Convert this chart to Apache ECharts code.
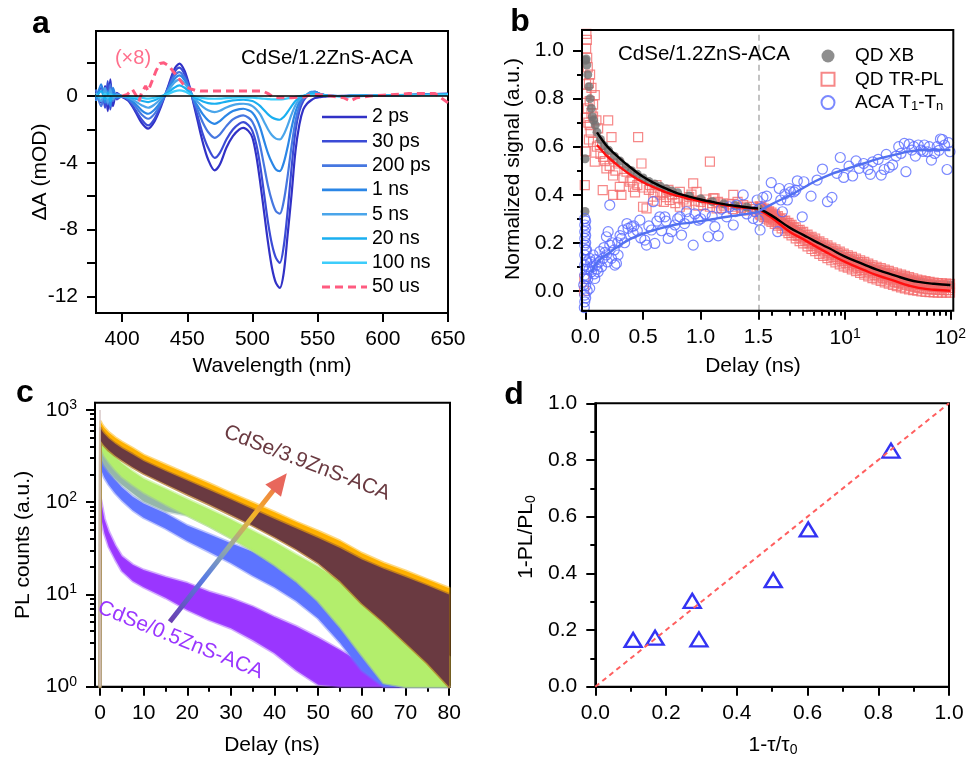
<!DOCTYPE html>
<html><head><meta charset="utf-8">
<script src="https://cdn.jsdelivr.net/npm/echarts@6/dist/echarts.min.js"></script>
<style>html,body{margin:0;padding:0;background:#fff}#c{width:969px;height:758px}</style>
</head><body><div id="c"></div>
<script>
// ---------- Panel a : transient absorption spectra ----------
const wl = [380,384,387,389,391,393,396,400,405,410,415,420,425,430,435,440,444,448,452,455,458,462,466,471,475,480,485,490,493,497,500,503,506,509,512,515,518,521,524,527,530,533,536,539,542,545,548,552,556,560,570,580,600,620,640,650];
const ps2 = [0.3,-0.4,0.6,-0.9,1.0,-0.6,0.2,-0.05,-0.3,-0.9,-1.6,-1.95,-1.5,-0.6,0.5,1.6,1.95,1.5,0.5,-0.5,-1.5,-2.8,-3.8,-4.45,-4.1,-3.1,-2.4,-2.0,-1.9,-2.1,-2.5,-3.6,-5.2,-7.0,-8.8,-10.3,-11.2,-11.5,-10.6,-8.3,-5.9,-3.3,-1.7,-0.8,-0.45,-0.25,-0.12,-0.06,-0.03,0,0.02,0.03,0.05,0.08,0.12,0.15];
const ps30 = [-0.2,0.5,-0.7,0.9,-0.8,0.4,-0.2,0,-0.25,-0.8,-1.4,-1.76,-1.35,-0.5,0.45,1.4,1.7,1.3,0.45,-0.4,-1.2,-2.3,-3.1,-3.7,-3.4,-2.6,-2.0,-1.65,-1.56,-1.75,-2.1,-2.9,-4.2,-5.9,-7.6,-8.9,-9.7,-10.0,-9.0,-6.9,-4.3,-2.1,-0.9,-0.3,0.0,0.2,0.25,0.12,0.05,0.02,0,0,0.05,0.05,0.1,0.1];
const ps200 = [0.4,-0.6,0.3,-0.5,0.7,-0.3,0.1,0,-0.2,-0.6,-1.1,-1.36,-1.05,-0.4,0.4,1.2,1.44,1.1,0.4,-0.3,-0.85,-1.6,-2.15,-2.5,-2.3,-1.8,-1.4,-1.2,-1.16,-1.3,-1.55,-2.1,-3.0,-4.2,-5.4,-6.3,-6.9,-7.05,-6.3,-4.8,-3.0,-1.5,-0.6,-0.15,0.05,0.22,0.25,0.12,0.05,0.02,0,0.02,0.03,0.05,0.08,0.1];
const ns1 = [-0.3,0.7,-0.4,0.3,-0.6,0.5,-0.1,0,-0.15,-0.45,-0.85,-1.06,-0.8,-0.3,0.35,1.0,1.24,0.95,0.35,-0.2,-0.6,-1.1,-1.45,-1.66,-1.5,-1.15,-0.9,-0.78,-0.76,-0.85,-1.0,-1.35,-1.9,-2.7,-3.45,-4.0,-4.4,-4.5,-4.0,-3.05,-1.9,-0.95,-0.35,-0.05,0.1,0.25,0.25,0.12,0.05,0.02,0,0.02,0.05,0.08,0.1,0.12];
const ns5 = [0.2,-0.3,0.5,-0.4,0.4,-0.2,0.1,0,-0.1,-0.3,-0.55,-0.7,-0.5,-0.15,0.3,0.8,0.98,0.75,0.3,-0.1,-0.35,-0.65,-0.85,-0.96,-0.88,-0.68,-0.54,-0.47,-0.46,-0.5,-0.6,-0.8,-1.1,-1.55,-2.0,-2.35,-2.55,-2.6,-2.3,-1.75,-1.1,-0.55,-0.2,0.0,0.1,0.22,0.2,0.1,0.04,0.02,0,0.02,0.04,0.06,0.1,0.12];
const ns20 = [-0.1,0.3,-0.2,0.2,-0.3,0.1,0,0,-0.05,-0.15,-0.28,-0.36,-0.25,-0.05,0.2,0.5,0.64,0.5,0.2,-0.05,-0.18,-0.32,-0.42,-0.46,-0.42,-0.33,-0.26,-0.23,-0.22,-0.25,-0.3,-0.42,-0.6,-0.85,-1.1,-1.28,-1.38,-1.42,-1.25,-0.95,-0.6,-0.3,-0.1,0.0,0.08,0.15,0.15,0.08,0.03,0.01,0,0.02,0.04,0.06,0.08,0.1];
const ns100 = [0.1,-0.1,0.15,-0.1,0.1,0,0,0,0,-0.05,-0.1,-0.15,-0.1,0,0.12,0.28,0.34,0.28,0.12,0,-0.06,-0.12,-0.15,-0.16,-0.15,-0.12,-0.1,-0.08,-0.08,-0.09,-0.1,-0.12,-0.14,-0.16,-0.18,-0.2,-0.2,-0.2,-0.18,-0.14,-0.1,-0.05,0,0.02,0.05,0.08,0.08,0.05,0.02,0.01,0,0.01,0.03,0.05,0.06,0.08];
const wl50 = [400,404,408,411,413,415,418,420,423,426,429,432,436,440,444,448,452,456,460,470,480,490,500,508,512,516,520,530,540,545,550,560,570,575,580,590,600,620,640,650];
const us50 = [0,0.1,0.4,0.0,-0.3,0.2,0.6,0.3,0.9,1.5,1.95,2.0,1.8,1.4,1.0,0.6,0.45,0.35,0.3,0.3,0.3,0.3,0.3,0.3,0.15,-0.05,-0.1,-0.1,-0.05,0.1,0.1,0,-0.1,-0.3,-0.1,0,0.05,0.15,0.15,-0.4];
const aNames = ['2 ps','30 ps','200 ps','1 ns','5 ns','20 ns','100 ns','50 us'];
const aTicksX = [400,450,500,550,600,650];
const aTicksY = [-12,-10,-8,-6,-4,-2,0,2];
const aLabelsY = [-12,-8,-4,0];

// ---------- Panel b : kinetics ----------
const fitLeftT = [0.1,0.15,0.2,0.3,0.4,0.5,0.6,0.7,0.8,0.9,1.0,1.1,1.2,1.3,1.4,1.5];
const fitXBLeft = [0.66,0.625,0.595,0.55,0.51,0.475,0.448,0.425,0.406,0.392,0.38,0.37,0.361,0.354,0.348,0.343];
const fitPLLeft = [0.607,0.58,0.555,0.515,0.48,0.452,0.43,0.41,0.395,0.383,0.373,0.365,0.357,0.35,0.345,0.34];
const acaFitLeftT = [0.05,0.1,0.15,0.2,0.3,0.4,0.5,0.6,0.7,0.8,0.9,1.0,1.1,1.2,1.3,1.4,1.5];
const acaFitLeft = [0.075,0.118,0.14,0.156,0.19,0.218,0.238,0.253,0.266,0.277,0.283,0.29,0.298,0.306,0.313,0.32,0.327];
const fitRightT = [1.5,2,3,4,5,7,10,15,20,30,40,50,70,100];
const fitXBRight = [0.343,0.314,0.262,0.233,0.21,0.178,0.142,0.11,0.088,0.063,0.046,0.037,0.029,0.024];
const fitPLRight = [0.34,0.305,0.245,0.215,0.19,0.155,0.12,0.087,0.065,0.04,0.022,0.012,0.004,0.0];
const acaFitRight = [0.33,0.36,0.398,0.428,0.452,0.482,0.505,0.53,0.548,0.567,0.58,0.585,0.587,0.586];

const plLeft = [[-0.01,0.05],[-0.012,0.0],[-0.006,0.44],[0.0,0.58],[0.003,0.72],[0.005,0.86],[0.008,1.07],[0.012,1.045],[0.006,1.01],[0.015,0.97],[0.02,0.93],[0.04,0.9],[0.03,0.865],[0.052,0.845],[0.01,0.82],[0.081,0.815],[0.037,0.79],[0.066,0.775],[0.052,0.74],[0.066,0.725],[0.095,0.71],[0.197,0.71],[0.037,0.69],[0.11,0.676],[0.226,0.64],[0.066,0.62],[0.124,0.607],[0.008,0.58],[0.457,0.64],[0.153,0.558],[0.081,0.538],[0.24,0.55],[0.283,0.53],[0.486,0.53],[1.08,0.538],[0.182,0.51],[0.356,0.496],[0.24,0.48],[0.298,0.433],[0.385,0.454],[0.414,0.433],[0.15,0.419],[0.24,0.399],[0.312,0.399],[0.616,0.44],[0.703,0.412],[0.819,0.412],[0.935,0.447],[0.964,0.412],[0.5,0.35],[0.53,0.343],[0.732,0.378],[0.877,0.371],[1.022,0.357],[1.109,0.385],[1.196,0.364],[1.283,0.399],[1.369,0.357],[1.456,0.35],[1.49,0.33],[1.138,0.343],[0.819,0.35],[0.588,0.392],[0.55,0.42],[0.6,0.41],[0.65,0.40],[0.7,0.39],[0.75,0.40],[0.8,0.385],[0.85,0.38],[0.9,0.39],[0.95,0.375],[1.0,0.37],[1.05,0.38],[1.1,0.365],[1.15,0.37],[1.2,0.355],[1.25,0.36],[1.3,0.35],[1.35,0.345],[1.4,0.35],[1.45,0.34],[0.62,0.375],[0.68,0.37],[0.78,0.365],[0.88,0.36],[0.98,0.355],[1.08,0.35],[1.18,0.345],[1.28,0.34],[1.38,0.335],[0.72,0.42],[0.92,0.40],[1.12,0.385],[1.32,0.37],[0.1,0.6],[0.13,0.57],[0.17,0.54],[0.21,0.52],[0.26,0.5],[0.33,0.47],[0.4,0.46],[0.45,0.44],[0.5,0.43],[0.56,0.44],[0.43,0.41],[0.02,0.76],[0.025,0.7],[0.045,0.66],[0.03,0.63]];
const xbLeft = [[-0.004,0.33],[-0.003,0.55],[0.0,0.96],[0.006,0.965],[0.012,0.94],[0.02,0.9],[0.03,0.85],[0.04,0.8],[0.05,0.76],[0.06,0.725],[0.07,0.71],[0.085,0.69],[0.1,0.66],[0.13,0.63],[0.16,0.605],[0.2,0.585],[0.25,0.56],[0.3,0.54],[0.35,0.515],[0.4,0.5],[0.45,0.485],[0.5,0.47],[0.55,0.455],[0.6,0.445],[0.65,0.435],[0.7,0.425],[0.75,0.415],[0.8,0.408],[0.9,0.395],[1.0,0.383],[1.1,0.372],[1.2,0.362],[1.3,0.355],[1.4,0.349],[1.5,0.344]];
const acaLeft = [[-0.006,0.301],[-0.006,0.274],[-0.006,0.246],[-0.006,0.218],[-0.006,0.19],[-0.006,0.149],[-0.006,0.107],[-0.006,0.065],[-0.015,0.024],[-0.006,-0.018],[-0.006,-0.046],[-0.01,-0.07],[0.002,0.29],[0.002,0.26],[0.002,0.23],[0.002,0.2],[0.002,0.17],[0.002,0.13],[0.002,0.09],[0.002,0.05],[0.002,0.02],[0.002,-0.03],[0.01,0.12],[0.01,0.06],[0.015,0.0],[0.01,0.17],[0.037,0.135],[0.066,0.149],[0.095,0.107],[0.124,0.163],[0.081,0.051],[0.037,0.01],[0.052,0.079],[0.11,0.079],[0.153,0.135],[0.182,0.149],[0.211,0.19],[0.226,0.135],[0.255,0.107],[0.269,0.114],[0.283,0.149],[0.197,0.246],[0.211,0.357],[0.312,0.218],[0.327,0.253],[0.37,0.26],[0.399,0.267],[0.414,0.239],[0.472,0.294],[0.515,0.211],[0.53,0.19],[0.573,0.253],[0.588,0.371],[0.602,0.197],[0.645,0.308],[0.689,0.308],[0.718,0.218],[0.747,0.246],[0.776,0.274],[0.819,0.308],[0.834,0.232],[0.877,0.329],[0.935,0.19],[0.979,0.294],[1.065,0.225],[1.123,0.267],[1.152,0.229],[1.225,0.308],[1.283,0.274],[1.312,0.357],[1.369,0.399],[1.456,0.301],[1.49,0.378],[0.02,0.05],[0.03,0.09],[0.045,0.12],[0.06,0.1],[0.075,0.07],[0.09,0.13],[0.1,0.09],[0.12,0.12],[0.14,0.1],[0.16,0.18],[0.17,0.16],[0.19,0.12],[0.23,0.2],[0.25,0.17],[0.28,0.2],[0.3,0.23],[0.34,0.2],[0.36,0.28],[0.42,0.27],[0.45,0.25],[0.48,0.22],[0.55,0.27],[0.62,0.29],[0.66,0.25],[0.7,0.29],[0.8,0.3],[0.86,0.28],[0.9,0.3],[0.95,0.32],[1.0,0.3],[1.04,0.32],[1.1,0.31],[1.18,0.34],[1.25,0.35],[1.3,0.33],[1.4,0.32],[1.47,0.33],[0.182,0.225]];
const acaRight = [[1.5,0.294],[1.56,0.253],[1.59,0.343],[1.66,0.389],[1.8,0.394],[1.99,0.45],[2.29,0.246],[2.37,0.426],[2.45,0.378],[2.54,0.329],[2.68,0.403],[2.83,0.378],[2.95,0.426],[3.04,0.412],[3.27,0.412],[3.4,0.419],[3.52,0.458],[3.92,0.308],[4.06,0.454],[4.75,0.394],[5.42,0.461],[6.1,0.507],[6.8,0.371],[7.5,0.389],[8.34,0.489],[9.0,0.555],[9.7,0.472],[10.9,0.519],[11.8,0.478],[12.7,0.541],[13.6,0.51],[15.0,0.53],[16.5,0.505],[17.4,0.485],[18.3,0.537],[20.6,0.547],[22,0.482],[23.5,0.505],[24.6,0.568],[26.3,0.514],[28.3,0.524],[30.5,0.561],[32.3,0.6],[33.9,0.572],[36.5,0.614],[37.8,0.496],[40.6,0.611],[43,0.586],[46.5,0.561],[49.5,0.607],[52.5,0.586],[56.5,0.607],[60.5,0.579],[66,0.544],[71,0.572],[74.8,0.6],[80.4,0.632],[88,0.607],[92.9,0.505],[96,0.617],[99,0.579],[84,0.63],[63,0.6],[45,0.6],[55,0.58],[78,0.585]];
const tRight = [1.55,1.6,1.7,1.8,1.9,2.0,2.15,2.3,2.5,2.7,2.9,3.1,3.4,3.7,4.0,4.4,4.8,5.2,5.7,6.2,6.8,7.4,8.1,8.9,9.7,10.6,11.6,12.7,13.9,15.2,16.6,18.2,19.9,21.8,23.8,26,28.5,31,34,37,40.5,44.3,48.4,53,58,63.4,69.3,75.8,82.9,90.6,99];
const plHi = [0.352,0.35,0.342,0.337,0.331,0.326,0.318,0.311,0.302,0.292,0.283,0.275,0.264,0.254,0.245,0.234,0.225,0.217,0.206,0.198,0.189,0.18,0.172,0.163,0.155,0.148,0.141,0.134,0.127,0.12,0.113,0.106,0.1,0.094,0.088,0.083,0.077,0.072,0.067,0.062,0.057,0.052,0.047,0.043,0.04,0.037,0.034,0.032,0.031,0.03,0.029];
const plMid = [0.338,0.334,0.327,0.321,0.315,0.309,0.301,0.294,0.284,0.274,0.264,0.256,0.244,0.233,0.224,0.212,0.202,0.194,0.183,0.174,0.165,0.156,0.148,0.139,0.131,0.125,0.118,0.111,0.103,0.096,0.089,0.082,0.076,0.07,0.064,0.059,0.053,0.048,0.043,0.039,0.034,0.03,0.026,0.023,0.02,0.018,0.016,0.015,0.014,0.013,0.012];
const plLo = [0.318,0.314,0.307,0.3,0.293,0.287,0.279,0.271,0.26,0.25,0.24,0.231,0.218,0.207,0.197,0.185,0.174,0.165,0.154,0.145,0.136,0.127,0.118,0.11,0.102,0.096,0.089,0.082,0.074,0.067,0.06,0.053,0.047,0.041,0.035,0.03,0.024,0.019,0.014,0.01,0.006,0.003,0.0,-0.003,-0.005,-0.006,-0.007,-0.008,-0.008,-0.008,-0.008];
const tRight2 = [1.57,1.65,1.75,1.85,1.95,2.07,2.22,2.4,2.6,2.8,3.0,3.25,3.55,3.85,4.2,4.6,5.0,5.45,5.95,6.5,7.1,7.75,8.5,9.3,10.15,11.1,12.15,13.3,14.55,15.9,17.4,19.05,20.85,22.8,24.9,27.2,29.75,32.5,35.5,38.7,42.4,46.3,50.7,55.5,60.7,66.3,72.5,79.3,86.7,94.8];
const plA = [0.344,0.338,0.333,0.327,0.321,0.315,0.307,0.299,0.29,0.281,0.272,0.263,0.252,0.241,0.231,0.221,0.211,0.202,0.192,0.184,0.175,0.166,0.158,0.149,0.141,0.134,0.127,0.120,0.113,0.106,0.099,0.092,0.086,0.080,0.074,0.069,0.063,0.058,0.053,0.049,0.044,0.040,0.036,0.033,0.030,0.027,0.025,0.024,0.023,0.022];
const plB = [0.326,0.321,0.315,0.309,0.303,0.297,0.289,0.281,0.271,0.261,0.251,0.241,0.229,0.218,0.208,0.197,0.187,0.178,0.168,0.159,0.150,0.141,0.132,0.124,0.116,0.109,0.102,0.095,0.087,0.080,0.073,0.066,0.060,0.054,0.048,0.043,0.037,0.032,0.027,0.023,0.019,0.015,0.012,0.009,0.007,0.006,0.005,0.004,0.003,0.003];
const xbRight = [0.34,0.336,0.33,0.325,0.319,0.314,0.306,0.299,0.29,0.28,0.271,0.263,0.252,0.242,0.233,0.222,0.213,0.205,0.194,0.186,0.177,0.168,0.16,0.151,0.143,0.136,0.129,0.122,0.115,0.108,0.101,0.094,0.088,0.082,0.076,0.071,0.065,0.06,0.055,0.051,0.046,0.042,0.038,0.035,0.032,0.03,0.028,0.027,0.026,0.025,0.024];
const bTicksY = [0,0.2,0.4,0.6,0.8,1.0];
const bMinorY = [0.1,0.3,0.5,0.7,0.9];
const bTicksXLeft = [0,0.5,1.0,1.5];
const bTicksXLog = [10,100];
const bMinorXLog = [2,3,4,5,6,7,8,9,20,30,40,50,60,70,80,90];

// ---------- Panel c : PL decay (noise envelopes, lower/upper) ----------
const tc = [0,0.1,0.5,1,2,3.5,5,7.5,10,15,20,25,30,35,40,45,50,55,60,65,70,75,80];
const orangeHi = [1,750,690,640,570,500,450,385,325,255,202,160,125,99,78,61,48.5,38,28,22,18,14.5,11.7];
const brownHi = [1,640,590,550,490,430,385,330,280,218,172,136,107,84,66,52,41,32,24,19,15.5,12.5,10];
const brownLo = [1,470,440,410,365,320,285,240,205,158,122,95,73,56,42,31,22,14,8,5,3,1.8,1];
const greenHi = [1,560,500,440,380,310,265,215,180,140,108,84,65,49,37,27,20,14,9.5,6.2,4.2,2.9,2.1];
const greenLo = [1,400,360,320,275,225,190,155,128,95,72,55,41,30,21,14,8.5,4.5,2.2,1.1,1,1,1];
const tealHi = [1,420,380,340,290,245,210,170,140,100,85,66,50,38,28,20,14,9,6,4,2.5,1.5,1];
const tealLo = [1,310,280,250,215,180,155,125,102,80,72,55,41,30,21,14,8.5,4.5,2.2,1.1,1,1,1];
const blueHi = [1,330,290,260,215,175,145,115,97,76,56,45,36,29,22,17,12.5,8.5,5.5,3.3,2,1.2,1];
const blueLo = [1,240,210,185,155,125,105,82,68,52,38,29,22,16,12,8.5,5.5,3,1.5,1,1,1,1];
const purpleHi = [1,110,88,66,48,34,26,21,18.4,15.5,13.3,10.7,9.1,7.4,5.7,4.5,3.4,2.5,1.8,1.3,1.05,1,1];
const purpleLo = [1,80,60,46,33,24,18,14,12,9.2,6.8,5.3,4.3,3.2,2.3,1.5,1.05,1,1,1,1,1,1];
const cTicksX = [0,10,20,30,40,50,60,70,80];
const cMinorX = [5,15,25,35,45,55,65,75];
const cDecades = [0,1,2,3];
const cMinorY = [2,3,4,5,6,7,8,9,20,30,40,50,60,70,80,90,200,300,400,500,600,700,800,900];
const arrowFrom = [16, 5.07];
const arrowTo = [42.8, 206];

// ---------- Panel d ----------
const dX = [0.107,0.169,0.274,0.293,0.503,0.602,0.836];
const dY = [0.165,0.173,0.303,0.167,0.376,0.555,0.833];
const dLine = [[0,0],[1,1]];

// ================== build ==================
const FONT = "'Liberation Sans', Arial, sans-serif";
const pairs = (xs, ys) => xs.map((x, i) => [x, ys[i]]);
const lbl = (extra) => Object.assign({fontSize: 21, fontFamily: FONT, color: '#000'}, extra || {});
const AX = {onZero: false, lineStyle: {color: '#000', width: 2}};
const NOAX = {show: false, onZero: false};
const tick = (len, vals) => { const t = {show: true, length: len, lineStyle: {color: '#000', width: 2}}; if (vals) t.customValues = vals; return t; };
const noSplit = {show: false};
const supRich = {b: {fontSize: 21, fontFamily: FONT, color: '#000'}, s: {fontSize: 14, fontFamily: FONT, color: '#000', verticalAlign: 'top', padding: [0, 0, 10, 0]}};
const lg = Math.log10;

const aColors = ['#3131c6','#3b4bd6','#4677e0','#2b86e6','#4aa5ea','#1aaff0','#3dcdfb'];
const aVals = [ps2, ps30, ps200, ns1, ns5, ns20, ns100];

const series = [];
aVals.forEach((v, i) => {
  const s = {name: aNames[i], type: 'line', xAxisIndex: 0, yAxisIndex: 0, data: pairs(wl, v), showSymbol: false, symbol: 'none',
    lineStyle: {color: aColors[i], width: 2.2}, itemStyle: {color: aColors[i]}, smooth: 0.3};
  if (i === 0) s.markLine = {silent: true, symbol: 'none', label: {show: false}, lineStyle: {color: '#000', width: 1.6, type: 'solid'}, data: [{yAxis: 0}]};
  series.push(s);
});
series.push({name: '50 us', type: 'line', xAxisIndex: 0, yAxisIndex: 0, data: pairs(wl50, us50), showSymbol: false, symbol: 'none',
  lineStyle: {color: '#ff5b80', width: 3, type: [8, 5]}, itemStyle: {color: '#ff5b80'}});

// panel b (left grid: xAxis1/yAxis1, right grid: xAxis2(log)/yAxis3)
const SQ = 'path://M0,0H10V10H0Z';
const redSq = {symbol: SQ, symbolSize: 9, itemStyle: {color: 'rgba(0,0,0,0)', borderColor: '#f46a6a', borderWidth: 1.2}};
const blueCi = {symbol: 'circle', symbolSize: 10, itemStyle: {color: 'rgba(0,0,0,0)', borderColor: '#5a6cff', borderWidth: 1.2}};
const grayDot = {symbol: 'circle', symbolSize: 9, itemStyle: {color: '#727272'}};
const plRight = [].concat(pairs(tRight, plHi), pairs(tRight2, plA), pairs(tRight, plMid), pairs(tRight2, plB), pairs(tRight, plLo));
series.push(Object.assign({name: 'QD XB', type: 'scatter', xAxisIndex: 2, yAxisIndex: 3, data: pairs(tRight, xbRight)}, grayDot));
series.push(Object.assign({name: 'QD TR-PL', type: 'scatter', xAxisIndex: 1, yAxisIndex: 1, data: plLeft}, redSq));
series.push(Object.assign({name: 'QD TR-PL', type: 'scatter', xAxisIndex: 2, yAxisIndex: 3, data: plRight}, redSq));
series.push(Object.assign({name: 'QD XB', type: 'scatter', xAxisIndex: 1, yAxisIndex: 1, data: xbLeft}, grayDot));
series.push(Object.assign({name: 'ACA T1-Tn', type: 'scatter', xAxisIndex: 1, yAxisIndex: 1, data: acaLeft}, blueCi));
series.push(Object.assign({name: 'ACA T1-Tn', type: 'scatter', xAxisIndex: 2, yAxisIndex: 3, data: acaRight}, blueCi));
const fitLine = (name, xi, yi, data, color) => ({name, type: 'line', xAxisIndex: xi, yAxisIndex: yi, data, showSymbol: false, symbol: 'none', smooth: true, lineStyle: {color, width: 2.4}});
series.push(fitLine('fitPL', 1, 1, pairs(fitLeftT, fitPLLeft), '#ff1010'));
series.push(fitLine('fitPL', 2, 3, pairs(fitRightT, fitPLRight), '#ff1010'));
series.push(fitLine('fitXB', 1, 1, pairs(fitLeftT, fitXBLeft), '#000000'));
series.push(fitLine('fitXB', 2, 3, pairs(fitRightT, fitXBRight), '#000000'));
const acaL = fitLine('fitACA', 1, 1, pairs(acaFitLeftT, acaFitLeft), '#5270f0');
acaL.markLine = {silent: true, symbol: 'none', label: {show: false}, lineStyle: {color: '#b4b4b4', width: 1.6, type: [6, 4]}, data: [{xAxis: 1.5}]};
series.push(acaL);
series.push(fitLine('fitACA', 2, 3, pairs(fitRightT, acaFitRight), '#5270f0'));

// panel c (xAxis5 / yAxis4 log)
series.push({name: 'irf', type: 'line', xAxisIndex: 5, yAxisIndex: 4, data: [[0, 1], [0, 1000]], showSymbol: false, symbol: 'none', lineStyle: {color: '#d8c8c8', width: 1.5}});
const band = (key, lo, hi, color, edge) => {
  series.push({name: key, type: 'custom', coordinateSystem: 'cartesian2d', xAxisIndex: 5, yAxisIndex: 4,
    data: tc.map((t, i) => [t, lo[i], hi[i]]), encode: {x: 0, y: [1, 2]},
    renderItem: (params, api) => {
      if (params.dataIndex !== 0) return null;
      const pts = [];
      for (let i = 0; i < tc.length; i++) pts.push(api.coord([tc[i], hi[i]]));
      for (let i = tc.length - 1; i >= 0; i--) pts.push(api.coord([tc[i], lo[i]]));
      return {type: 'polygon', shape: {points: pts}, style: {fill: color, stroke: edge, lineWidth: 3, lineJoin: 'round'}};
    }});
};
band('purple', purpleLo, purpleHi, '#9a36ff', 'rgba(160,70,255,0.45)');
band('blue', blueLo, blueHi, '#5d74ff', 'rgba(100,120,255,0.45)');
band('teal', tealLo, tealHi, '#95b6aa', 'rgba(150,185,172,0.45)');
band('green', greenLo, greenHi, '#b3ee6c', 'rgba(180,238,110,0.5)');
band('orange', brownLo, orangeHi, '#ffb000', 'rgba(255,180,0,0.5)');
band('brown', brownLo, brownHi, '#6a3a41', 'rgba(110,60,66,0.4)');

// panel d (xAxis7 / yAxis7)
series.push({name: 'diag', type: 'line', xAxisIndex: 7, yAxisIndex: 7, data: dLine, showSymbol: false, symbol: 'none', lineStyle: {color: '#ff5f5f', width: 2, type: [5, 4]}});
series.push({name: 'quench', type: 'scatter', xAxisIndex: 7, yAxisIndex: 7, data: pairs(dX, dY), symbol: 'triangle', symbolSize: [17, 14],
  itemStyle: {color: 'rgba(0,0,0,0)', borderColor: '#0000f0', borderWidth: 2.4}});

const gtext = (id, x, y, text, opts) => Object.assign({type: 'text', id, x, y, z: 100, style: Object.assign({text, font: '21px ' + FONT, fill: '#000', align: 'center', verticalAlign: 'middle'}, (opts && opts.style) || {})}, (opts && opts.el) || {});
const R90 = Math.PI / 2;
const lineIcon = 'path://M0,0H45V2.6H0Z';
const dashIcon = 'path://M0,0H8V3H0ZM13,0H21V3H13ZM26,0H34V3H26ZM39,0H45V3H39Z';
const X = (o) => Object.assign({type: 'value', position: 'bottom', offset: 0, splitLine: noSplit}, o);
const Y = (o) => Object.assign({type: 'value', position: 'left', offset: 0, splitLine: noSplit}, o);

const option = {
  animation: false,
  backgroundColor: '#fff',
  grid: [
    {left: 96, top: 31, width: 352, height: 282, show: true, borderColor: '#000', borderWidth: 2},
    {left: 582, top: 30, width: 176.3, height: 280.7},
    {left: 758.3, top: 30, width: 195, height: 280.7},
    {left: 95, top: 402.7, width: 355, height: 284, show: true, borderColor: '#000', borderWidth: 2},
    {left: 595.3, top: 403.3, width: 353.7, height: 283.4, show: true, borderColor: '#000', borderWidth: 2}
  ],
  xAxis: [
    X({gridIndex: 0, min: 380, max: 650, axisLine: AX, axisTick: tick(9, aTicksX), axisLabel: lbl({customValues: aTicksX, margin: 16})}),
    X({gridIndex: 1, min: -0.03, max: 1.5, axisLine: AX, axisTick: tick(9, bTicksXLeft), axisLabel: lbl({customValues: bTicksXLeft, margin: 16, formatter: v => v.toFixed(1)})}),
    X({gridIndex: 2, type: 'log', min: 1.5, max: 100, show: false, axisLine: NOAX}),
    X({gridIndex: 2, min: lg(1.5), max: 2, axisLine: AX, axisTick: tick(9, bTicksXLog.map(lg)), axisLabel: lbl({customValues: bTicksXLog.map(lg), margin: 16, formatter: v => '{b|10}{s|' + Math.round(v) + '}', rich: supRich})}),
    X({gridIndex: 2, min: lg(1.5), max: 2, axisLine: NOAX, axisTick: tick(5, bMinorXLog.map(lg)), axisLabel: {show: false}}),
    X({gridIndex: 3, min: -1.15, max: 80.2, axisLine: AX, axisTick: tick(9, cTicksX), axisLabel: lbl({customValues: cTicksX, margin: 16})}),
    X({gridIndex: 3, min: -1.15, max: 80.2, axisLine: NOAX, axisTick: tick(5, cMinorX), axisLabel: {show: false}}),
    X({gridIndex: 4, min: 0, max: 1, interval: 0.2, axisLine: AX, axisTick: tick(9), minorTick: {show: true, splitNumber: 2, length: 5, lineStyle: {color: '#000', width: 2}}, axisLabel: lbl({margin: 16, formatter: v => v.toFixed(1)})})
  ],
  yAxis: [
    Y({gridIndex: 0, min: -13, max: 3.9, axisLine: AX, axisTick: tick(9, aTicksY), axisLabel: lbl({customValues: aLabelsY, margin: 18})}),
    Y({gridIndex: 1, min: -0.083, max: 1.086, axisLine: AX, axisTick: tick(9, bTicksY), axisLabel: lbl({customValues: bTicksY, margin: 18, formatter: v => v.toFixed(1)})}),
    Y({gridIndex: 1, min: -0.083, max: 1.086, axisLine: NOAX, axisTick: tick(5, bMinorY), axisLabel: {show: false}}),
    Y({gridIndex: 2, min: -0.083, max: 1.086, show: false, axisLine: NOAX}),
    Y({gridIndex: 3, type: 'log', min: 1, max: 1200, show: false, axisLine: NOAX}),
    Y({gridIndex: 3, min: 0, max: lg(1200), axisLine: AX, axisTick: tick(9, cDecades), axisLabel: lbl({customValues: cDecades, margin: 18, formatter: v => '{b|10}{s|' + Math.round(v) + '}', rich: supRich})}),
    Y({gridIndex: 3, min: 0, max: lg(1200), axisLine: NOAX, axisTick: tick(5, cMinorY.map(lg)), axisLabel: {show: false}}),
    Y({gridIndex: 4, min: 0, max: 1, interval: 0.2, axisLine: AX, axisTick: tick(9), minorTick: {show: true, splitNumber: 2, length: 5, lineStyle: {color: '#000', width: 2}}, axisLabel: lbl({margin: 18, formatter: v => v.toFixed(1)})})
  ],
  legend: [
    {left: 322, top: 107, padding: 0, orient: 'vertical', itemWidth: 45, itemHeight: 14, itemGap: 4.3, selectedMode: false,
      data: aNames.map((n, i) => ({name: n, icon: i === 7 ? dashIcon : lineIcon})),
      textStyle: {fontSize: 19.5, fontFamily: FONT, color: '#000', lineHeight: 20}},
    {left: 820.5, top: 46, padding: 0, orient: 'vertical', itemWidth: 13, itemHeight: 13, itemGap: 3.3, selectedMode: false,
      data: ['QD XB', 'QD TR-PL', 'ACA T1-Tn'],
      formatter: n => n === 'ACA T1-Tn' ? '{n|ACA T}{s|1}{n|-T}{s|n}' : '{n|' + n + '}',
      textStyle: {fontSize: 19, fontFamily: FONT, color: '#000', lineHeight: 20, padding: [0, 0, 0, 15.5],
        rich: {n: {fontSize: 19, fontFamily: FONT, color: '#000'}, s: {fontSize: 13, fontFamily: FONT, color: '#000', verticalAlign: 'bottom', padding: [9, 0, 0, 0]}}}}
  ],
  graphic: {elements: [
    {type: 'rect', id: 'frameB', shape: {x: 582, y: 30, width: 371.3, height: 280.7}, style: {fill: 'none', stroke: '#000', lineWidth: 2}, z: 50},
    gtext('la', 41, 24, 'a', {style: {font: 'bold 32px ' + FONT}}),
    gtext('lb', 520, 22, 'b', {style: {font: 'bold 32px ' + FONT}}),
    gtext('lc', 25, 393, 'c', {style: {font: 'bold 32px ' + FONT}}),
    gtext('ld', 514, 395, 'd', {style: {font: 'bold 32px ' + FONT}}),
    gtext('x8', 133, 58, '(×8)', {style: {fill: '#ff6f8c', font: '20px ' + FONT}}),
    gtext('ta', 241, 58, 'CdSe/1.2ZnS-ACA', {style: {align: 'left', font: '20.5px ' + FONT}}),
    gtext('tb', 618, 54, 'CdSe/1.2ZnS-ACA', {style: {align: 'left', font: '20.5px ' + FONT}}),
    gtext('ay', 40, 172, 'ΔA (mOD)', {el: {rotation: R90}}),
    gtext('ax', 272, 366, 'Wavelength (nm)'),
    gtext('by', 513, 169, 'Normalized signal (a.u.)', {el: {rotation: R90}}),
    gtext('bx', 753, 366, 'Delay (ns)'),
    gtext('cy', 23, 545, 'PL counts (a.u.)', {el: {rotation: R90}}),
    gtext('cx', 272, 745, 'Delay (ns)'),
    {type: 'text', id: 'dy', x: 526, y: 537, rotation: R90, z: 100, style: {text: '{n|1-PL/PL}{s|0}', align: 'center', verticalAlign: 'middle',
      rich: {n: {font: '21px ' + FONT, fill: '#000'}, s: {font: '14px ' + FONT, fill: '#000', verticalAlign: 'bottom', padding: [10, 0, 0, 0]}}}},
    {type: 'text', id: 'dx', x: 773, y: 745, z: 100, style: {text: '{n|1-τ/τ}{s|0}', align: 'center', verticalAlign: 'middle',
      rich: {n: {font: '21px ' + FONT, fill: '#000'}, s: {font: '14px ' + FONT, fill: '#000', verticalAlign: 'bottom', padding: [10, 0, 0, 0]}}}},
    gtext('c39', 307, 463, 'CdSe/3.9ZnS-ACA', {el: {rotation: -21 * Math.PI / 180}, style: {fill: '#6a3a41'}}),
    gtext('c05', 180.5, 640, 'CdSe/0.5ZnS-ACA', {el: {rotation: -22 * Math.PI / 180}, style: {fill: '#9a36ff'}})
  ]},
  series
};

const chart = echarts.init(document.getElementById('c'), null, {renderer: 'canvas'});
chart.setOption(option);

// gradient arrow in panel c, placed through the axes
const p1 = chart.convertToPixel({xAxisIndex: 5, yAxisIndex: 4}, arrowFrom);
const p2 = chart.convertToPixel({xAxisIndex: 5, yAxisIndex: 4}, arrowTo);
const dx = p2[0] - p1[0], dy = p2[1] - p1[1], L = Math.hypot(dx, dy), ux = dx / L, uy = dy / L;
const headL = 22, headW = 10;
const bx = p2[0] - ux * headL, by = p2[1] - uy * headL;
const grad = new echarts.graphic.LinearGradient(p1[0], p1[1], p2[0], p2[1], [
  {offset: 0, color: '#6a3fb0'}, {offset: 0.3, color: '#5a7ee2'}, {offset: 0.5, color: '#93aaa6'},
  {offset: 0.72, color: '#f4b425'}, {offset: 1, color: '#e8605a'}], true);
chart.setOption({graphic: {elements: [
  {type: 'line', id: 'arrowShaft', shape: {x1: p1[0], y1: p1[1], x2: bx + ux * 2, y2: by + uy * 2}, style: {stroke: grad, lineWidth: 5}, z: 60},
  {type: 'polygon', id: 'arrowHead', shape: {points: [[p2[0], p2[1]], [bx - uy * headW, by + ux * headW], [bx + uy * headW, by - ux * headW]]}, style: {fill: '#e8675c'}, z: 60}
]}});
</script></body></html>
